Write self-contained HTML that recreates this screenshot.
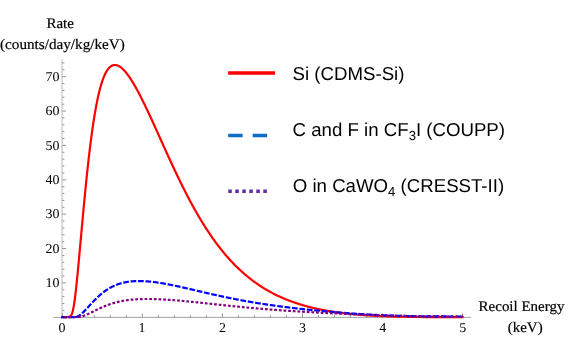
<!DOCTYPE html>
<html><head><meta charset="utf-8">
<style>
html,body{margin:0;padding:0;background:#fff;}
body{width:568px;height:352px;overflow:hidden;}
svg{display:block;will-change:transform;text-rendering:geometricPrecision;}
.ser{font-family:"Liberation Serif",serif;font-size:14.6px;fill:#000;stroke:#000;stroke-width:0.2px}
.tk{font-family:"Liberation Serif",serif;font-size:13.5px;fill:#000}
.san{font-family:"Liberation Sans",sans-serif;font-size:18.65px;fill:#000}
</style></head><body>
<svg width="568" height="352" viewBox="0 0 568 352">
<rect width="568" height="352" fill="#fff"/>
<g fill="none">
<line x1="53.4" y1="317.4" x2="471" y2="317.4" stroke="#8a8a8a" stroke-width="0.8"/>
<line x1="62.05" y1="59.5" x2="62.05" y2="317.25" stroke="#c4c4c4" stroke-width="1.2"/>
<g stroke="#666666" stroke-width="0.7">
<line x1="62.30" y1="317.25" x2="62.30" y2="313.55"/>
<line x1="78.31" y1="317.25" x2="78.31" y2="315.15"/>
<line x1="94.32" y1="317.25" x2="94.32" y2="315.15"/>
<line x1="110.32" y1="317.25" x2="110.32" y2="315.15"/>
<line x1="126.33" y1="317.25" x2="126.33" y2="315.15"/>
<line x1="142.34" y1="317.25" x2="142.34" y2="313.55"/>
<line x1="158.35" y1="317.25" x2="158.35" y2="315.15"/>
<line x1="174.36" y1="317.25" x2="174.36" y2="315.15"/>
<line x1="190.36" y1="317.25" x2="190.36" y2="315.15"/>
<line x1="206.37" y1="317.25" x2="206.37" y2="315.15"/>
<line x1="222.38" y1="317.25" x2="222.38" y2="313.55"/>
<line x1="238.39" y1="317.25" x2="238.39" y2="315.15"/>
<line x1="254.40" y1="317.25" x2="254.40" y2="315.15"/>
<line x1="270.40" y1="317.25" x2="270.40" y2="315.15"/>
<line x1="286.41" y1="317.25" x2="286.41" y2="315.15"/>
<line x1="302.42" y1="317.25" x2="302.42" y2="313.55"/>
<line x1="318.43" y1="317.25" x2="318.43" y2="315.15"/>
<line x1="334.44" y1="317.25" x2="334.44" y2="315.15"/>
<line x1="350.44" y1="317.25" x2="350.44" y2="315.15"/>
<line x1="366.45" y1="317.25" x2="366.45" y2="315.15"/>
<line x1="382.46" y1="317.25" x2="382.46" y2="313.55"/>
<line x1="398.47" y1="317.25" x2="398.47" y2="315.15"/>
<line x1="414.48" y1="317.25" x2="414.48" y2="315.15"/>
<line x1="430.48" y1="317.25" x2="430.48" y2="315.15"/>
<line x1="446.49" y1="317.25" x2="446.49" y2="315.15"/>
<line x1="462.50" y1="317.25" x2="462.50" y2="313.55"/>
<line x1="62.3" y1="317.29" x2="66.0" y2="317.29"/>
<line x1="62.3" y1="310.41" x2="64.39999999999999" y2="310.41"/>
<line x1="62.3" y1="303.54" x2="64.39999999999999" y2="303.54"/>
<line x1="62.3" y1="296.66" x2="64.39999999999999" y2="296.66"/>
<line x1="62.3" y1="289.79" x2="64.39999999999999" y2="289.79"/>
<line x1="62.3" y1="282.91" x2="66.0" y2="282.91"/>
<line x1="62.3" y1="276.04" x2="64.39999999999999" y2="276.04"/>
<line x1="62.3" y1="269.16" x2="64.39999999999999" y2="269.16"/>
<line x1="62.3" y1="262.29" x2="64.39999999999999" y2="262.29"/>
<line x1="62.3" y1="255.41" x2="64.39999999999999" y2="255.41"/>
<line x1="62.3" y1="248.54" x2="66.0" y2="248.54"/>
<line x1="62.3" y1="241.66" x2="64.39999999999999" y2="241.66"/>
<line x1="62.3" y1="234.79" x2="64.39999999999999" y2="234.79"/>
<line x1="62.3" y1="227.91" x2="64.39999999999999" y2="227.91"/>
<line x1="62.3" y1="221.04" x2="64.39999999999999" y2="221.04"/>
<line x1="62.3" y1="214.16" x2="66.0" y2="214.16"/>
<line x1="62.3" y1="207.29" x2="64.39999999999999" y2="207.29"/>
<line x1="62.3" y1="200.41" x2="64.39999999999999" y2="200.41"/>
<line x1="62.3" y1="193.54" x2="64.39999999999999" y2="193.54"/>
<line x1="62.3" y1="186.66" x2="64.39999999999999" y2="186.66"/>
<line x1="62.3" y1="179.79" x2="66.0" y2="179.79"/>
<line x1="62.3" y1="172.91" x2="64.39999999999999" y2="172.91"/>
<line x1="62.3" y1="166.04" x2="64.39999999999999" y2="166.04"/>
<line x1="62.3" y1="159.16" x2="64.39999999999999" y2="159.16"/>
<line x1="62.3" y1="152.29" x2="64.39999999999999" y2="152.29"/>
<line x1="62.3" y1="145.41" x2="66.0" y2="145.41"/>
<line x1="62.3" y1="138.53" x2="64.39999999999999" y2="138.53"/>
<line x1="62.3" y1="131.66" x2="64.39999999999999" y2="131.66"/>
<line x1="62.3" y1="124.78" x2="64.39999999999999" y2="124.78"/>
<line x1="62.3" y1="117.91" x2="64.39999999999999" y2="117.91"/>
<line x1="62.3" y1="111.03" x2="66.0" y2="111.03"/>
<line x1="62.3" y1="104.16" x2="64.39999999999999" y2="104.16"/>
<line x1="62.3" y1="97.28" x2="64.39999999999999" y2="97.28"/>
<line x1="62.3" y1="90.41" x2="64.39999999999999" y2="90.41"/>
<line x1="62.3" y1="83.53" x2="64.39999999999999" y2="83.53"/>
<line x1="62.3" y1="76.66" x2="66.0" y2="76.66"/>
<line x1="62.3" y1="69.78" x2="64.39999999999999" y2="69.78"/>
<line x1="62.3" y1="62.91" x2="64.39999999999999" y2="62.91"/>
</g>
</g>
<g class="tk">
<text transform="translate(62.00,332.00) scale(1.035,1)" text-anchor="middle">0</text>
<text transform="translate(142.04,332.00) scale(1.035,1)" text-anchor="middle">1</text>
<text transform="translate(222.38,332.00) scale(1.035,1)" text-anchor="middle">2</text>
<text transform="translate(302.42,332.00) scale(1.035,1)" text-anchor="middle">3</text>
<text transform="translate(382.66,332.00) scale(1.035,1)" text-anchor="middle">4</text>
<text transform="translate(462.80,332.00) scale(1.035,1)" text-anchor="middle">5</text>
<text transform="translate(59.55,287.21) scale(1.035,1)" text-anchor="end">10</text>
<text transform="translate(59.55,252.84) scale(1.035,1)" text-anchor="end">20</text>
<text transform="translate(59.55,218.46) scale(1.035,1)" text-anchor="end">30</text>
<text transform="translate(59.55,184.09) scale(1.035,1)" text-anchor="end">40</text>
<text transform="translate(59.55,149.71) scale(1.035,1)" text-anchor="end">50</text>
<text transform="translate(59.55,115.33) scale(1.035,1)" text-anchor="end">60</text>
<text transform="translate(59.55,80.96) scale(1.035,1)" text-anchor="end">70</text>
</g>
<g class="ser">
<text transform="translate(60.20,28.00) scale(1.026,1)" text-anchor="middle">Rate</text>
<text transform="translate(62.40,49.30) scale(1.04,1)" text-anchor="middle">(counts/day/kg/keV)</text>
<text transform="translate(521.50,310.90) scale(1.026,1)" text-anchor="middle">Recoil Energy</text>
<text transform="translate(525.20,332.30) scale(1.026,1)" text-anchor="middle">(keV)</text>
</g>
<g fill="none" stroke-linejoin="round" stroke-linecap="butt">
<path d="M61.10,317.10 L62.30,317.10 L62.42,317.10 L62.54,317.10 L62.66,317.10 L62.78,317.10 L62.90,317.10 L63.02,317.10 L63.14,317.10 L63.26,317.10 L63.38,317.10 L63.50,317.10 L63.62,317.10 L63.74,317.10 L63.86,317.10 L63.99,317.10 L64.11,317.10 L64.23,317.10 L64.35,317.10 L64.47,317.10 L64.59,317.10 L64.71,317.10 L64.83,317.10 L64.95,317.10 L65.07,317.09 L65.19,317.09 L65.31,317.09 L65.43,317.09 L65.55,317.09 L65.67,317.09 L65.79,317.09 L65.91,317.09 L66.03,317.09 L66.15,317.08 L66.27,317.08 L66.39,317.08 L66.51,317.08 L66.63,317.07 L66.75,317.07 L66.87,317.07 L66.99,317.06 L67.11,317.06 L67.23,317.05 L67.36,317.05 L67.48,317.04 L67.60,317.03 L67.72,317.02 L67.84,317.01 L67.96,317.00 L68.08,316.99 L68.20,316.98 L68.32,316.96 L68.44,316.95 L68.56,316.93 L68.68,316.91 L68.80,316.88 L68.92,316.86 L69.04,316.83 L69.16,316.79 L69.28,316.75 L69.40,316.71 L69.52,316.67 L69.64,316.61 L69.76,316.56 L69.88,316.49 L70.00,316.42 L70.12,316.34 L70.24,316.26 L70.36,316.16 L70.48,316.06 L70.60,315.94 L70.73,315.81 L70.85,315.67 L70.97,315.52 L71.09,315.35 L71.21,315.17 L71.33,314.97 L71.45,314.75 L71.57,314.51 L71.69,314.26 L71.81,313.99 L71.93,313.69 L72.05,313.37 L72.17,313.03 L72.29,312.67 L72.41,312.28 L72.53,311.87 L72.65,311.43 L72.77,310.97 L72.89,310.48 L73.01,309.96 L73.13,309.42 L73.25,308.85 L73.37,308.25 L73.49,307.63 L73.61,306.98 L73.73,306.30 L73.85,305.60 L73.98,304.87 L74.10,304.11 L74.22,303.33 L74.34,302.52 L74.46,301.69 L74.58,300.84 L74.70,299.97 L74.82,299.07 L74.94,298.15 L75.06,297.21 L75.18,296.25 L75.30,295.26 L75.42,294.26 L75.54,293.25 L75.66,292.21 L75.78,291.16 L75.90,290.09 L76.02,289.00 L76.14,287.90 L76.26,286.79 L76.38,285.66 L76.50,284.52 L76.62,283.37 L76.74,282.20 L76.86,281.03 L76.98,279.84 L77.10,278.64 L77.22,277.44 L77.35,276.22 L77.47,274.99 L77.59,273.76 L77.71,272.52 L77.83,271.27 L77.95,270.01 L78.07,268.75 L78.19,267.48 L78.31,266.20 L78.43,264.92 L78.55,263.64 L78.67,262.35 L78.79,261.05 L78.91,259.75 L79.03,258.45 L79.15,257.14 L79.27,255.83 L79.39,254.52 L79.51,253.20 L79.63,251.88 L79.75,250.56 L79.87,249.24 L79.99,247.92 L80.11,246.59 L80.23,245.26 L80.35,243.94 L80.47,242.61 L80.59,241.28 L80.72,239.95 L80.84,238.62 L80.96,237.29 L81.08,235.97 L81.20,234.64 L81.32,233.31 L81.44,231.98 L81.56,230.66 L81.68,229.34 L81.80,228.01 L81.92,226.69 L82.04,225.37 L82.16,224.06 L82.28,222.74 L82.40,221.43 L82.52,220.12 L82.64,218.81 L82.76,217.50 L82.88,216.20 L83.00,214.90 L83.12,213.61 L83.24,212.31 L83.36,211.02 L83.48,209.74 L83.60,208.45 L83.72,207.17 L83.84,205.90 L83.96,204.63 L84.09,203.36 L84.21,202.09 L84.33,200.84 L84.45,199.58 L84.57,198.33 L84.69,197.08 L84.81,195.84 L84.93,194.60 L85.05,193.37 L85.17,192.15 L85.29,190.92 L85.41,189.71 L85.53,188.49 L85.65,187.29 L85.77,186.08 L85.89,184.89 L86.01,183.70 L86.13,182.51 L86.25,181.33 L86.37,180.15 L86.49,178.99 L86.61,177.82 L86.73,176.66 L86.85,175.51 L86.97,174.37 L87.09,173.23 L87.21,172.09 L87.34,170.96 L87.46,169.84 L87.58,168.73 L87.70,167.62 L87.82,166.51 L87.94,165.42 L88.06,164.32 L88.18,163.24 L88.30,162.16 L88.42,161.09 L88.54,160.02 L88.66,158.96 L88.78,157.91 L88.90,156.86 L89.02,155.82 L89.14,154.79 L89.26,153.77 L89.38,152.75 L89.50,151.73 L89.62,150.72 L89.74,149.72 L89.86,148.73 L89.98,147.74 L90.10,146.76 L90.22,145.79 L90.34,144.83 L90.46,143.87 L90.58,142.91 L90.71,141.97 L90.83,141.03 L90.95,140.09 L91.07,139.17 L91.19,138.25 L91.31,137.34 L91.43,136.43 L91.55,135.53 L91.67,134.64 L91.79,133.76 L91.91,132.88 L92.03,132.01 L92.15,131.14 L92.27,130.28 L92.39,129.43 L92.51,128.59 L92.63,127.75 L92.75,126.92 L92.87,126.10 L92.99,125.28 L93.11,124.47 L93.23,123.67 L93.35,122.87 L93.47,122.08 L93.59,121.30 L93.71,120.52 L93.83,119.75 L93.95,118.99 L94.08,118.23 L94.20,117.48 L94.32,116.74 L94.44,116.00 L94.56,115.27 L94.68,114.55 L94.80,113.83 L94.92,113.12 L95.04,112.42 L95.16,111.72 L95.28,111.03 L95.40,110.34 L95.52,109.66 L95.64,108.99 L95.76,108.33 L95.88,107.67 L96.00,107.02 L96.12,106.37 L96.24,105.73 L96.36,105.10 L96.48,104.47 L96.60,103.85 L96.72,103.24 L96.84,102.63 L96.96,102.02 L97.08,101.43 L97.20,100.84 L97.33,100.25 L97.45,99.68 L97.57,99.11 L97.69,98.54 L97.81,97.98 L97.93,97.43 L98.05,96.88 L98.17,96.34 L98.29,95.80 L98.41,95.27 L98.53,94.75 L98.65,94.23 L98.77,93.71 L98.89,93.21 L99.01,92.71 L99.13,92.21 L99.25,91.72 L99.37,91.23 L99.49,90.76 L99.61,90.28 L99.73,89.81 L99.85,89.35 L99.97,88.90 L100.09,88.44 L100.21,88.00 L100.33,87.56 L100.45,87.12 L100.57,86.69 L100.70,86.27 L100.82,85.85 L100.94,85.43 L101.06,85.02 L101.18,84.62 L101.30,84.22 L101.42,83.83 L101.54,83.44 L101.66,83.06 L101.78,82.68 L101.90,82.30 L102.02,81.93 L102.14,81.57 L102.26,81.21 L102.38,80.86 L102.50,80.51 L102.62,80.16 L102.74,79.82 L102.86,79.49 L102.98,79.16 L103.10,78.83 L103.22,78.51 L103.34,78.20 L103.46,77.88 L103.58,77.58 L103.70,77.27 L103.82,76.98 L103.94,76.68 L104.07,76.39 L104.19,76.11 L104.31,75.83 L104.43,75.55 L104.55,75.28 L104.67,75.01 L104.79,74.75 L104.91,74.49 L105.03,74.23 L105.15,73.98 L105.27,73.74 L105.39,73.49 L105.51,73.25 L105.63,73.02 L105.75,72.79 L105.87,72.56 L105.99,72.34 L106.11,72.12 L106.23,71.90 L106.35,71.69 L106.47,71.49 L106.59,71.28 L106.71,71.08 L106.83,70.89 L106.95,70.70 L107.07,70.51 L107.19,70.32 L107.31,70.14 L107.44,69.96 L107.56,69.79 L107.68,69.62 L107.80,69.45 L107.92,69.29 L108.04,69.13 L108.16,68.97 L108.28,68.82 L108.40,68.67 L108.52,68.52 L108.64,68.38 L108.76,68.24 L108.88,68.10 L109.00,67.97 L109.12,67.84 L109.24,67.71 L109.36,67.59 L109.48,67.47 L109.60,67.35 L109.72,67.24 L109.84,67.13 L109.96,67.02 L110.08,66.92 L110.20,66.81 L110.32,66.72 L110.83,66.33 L111.33,66.00 L111.84,65.72 L112.34,65.49 L112.84,65.30 L113.35,65.16 L113.85,65.06 L114.35,65.00 L114.86,64.98 L115.36,65.00 L115.87,65.05 L116.37,65.15 L116.87,65.27 L117.38,65.44 L117.88,65.63 L118.39,65.86 L118.89,66.12 L119.39,66.41 L119.90,66.72 L120.40,67.07 L120.90,67.44 L121.41,67.84 L121.91,68.27 L122.42,68.71 L122.92,69.19 L123.42,69.68 L123.93,70.20 L124.43,70.74 L124.94,71.30 L125.44,71.89 L125.94,72.49 L126.45,73.11 L126.95,73.75 L127.45,74.41 L127.96,75.08 L128.46,75.78 L128.97,76.49 L129.47,77.21 L129.97,77.95 L130.48,78.71 L130.98,79.48 L131.48,80.27 L131.99,81.07 L132.49,81.88 L133.00,82.70 L133.50,83.54 L134.00,84.39 L134.51,85.26 L135.01,86.13 L135.52,87.02 L136.02,87.91 L136.52,88.82 L137.03,89.74 L137.53,90.66 L138.03,91.60 L138.54,92.55 L139.04,93.50 L139.55,94.47 L140.05,95.44 L140.55,96.42 L141.06,97.41 L141.56,98.40 L142.07,99.40 L142.57,100.41 L143.07,101.43 L143.58,102.45 L144.08,103.48 L144.58,104.52 L145.09,105.56 L145.59,106.61 L146.10,107.66 L146.60,108.72 L147.10,109.78 L147.61,110.84 L148.11,111.92 L148.61,112.99 L149.12,114.07 L149.62,115.15 L150.13,116.24 L150.63,117.33 L151.13,118.42 L151.64,119.52 L152.14,120.62 L152.65,121.72 L153.15,122.83 L153.65,123.93 L154.16,125.04 L154.66,126.15 L155.16,127.26 L155.67,128.38 L156.17,129.49 L156.68,130.61 L157.18,131.73 L157.68,132.85 L158.19,133.96 L158.69,135.08 L159.20,136.20 L159.70,137.32 L160.20,138.44 L160.71,139.56 L161.21,140.68 L161.71,141.80 L162.22,142.92 L162.72,144.04 L163.23,145.16 L163.73,146.28 L164.23,147.39 L164.74,148.51 L165.24,149.62 L165.75,150.74 L166.25,151.85 L166.75,152.96 L167.26,154.06 L167.76,155.17 L168.26,156.27 L168.77,157.38 L169.27,158.48 L169.78,159.57 L170.28,160.67 L170.78,161.76 L171.29,162.85 L171.79,163.94 L172.29,165.03 L172.80,166.11 L173.30,167.19 L173.81,168.26 L174.31,169.34 L174.81,170.41 L175.32,171.47 L175.82,172.54 L176.33,173.60 L176.83,174.65 L177.33,175.71 L177.84,176.76 L178.34,177.80 L178.84,178.84 L179.35,179.88 L179.85,180.92 L180.36,181.95 L180.86,182.97 L181.36,184.00 L181.87,185.01 L182.37,186.03 L182.88,187.04 L183.38,188.04 L183.88,189.04 L184.39,190.04 L184.89,191.03 L185.39,192.02 L185.90,193.01 L186.40,193.99 L186.91,194.96 L187.41,195.93 L187.91,196.90 L188.42,197.86 L188.92,198.81 L189.43,199.76 L189.93,200.71 L190.43,201.65 L190.94,202.59 L191.44,203.52 L191.94,204.45 L192.45,205.37 L192.95,206.29 L193.46,207.20 L193.96,208.11 L194.46,209.01 L194.97,209.90 L195.47,210.80 L195.97,211.68 L196.48,212.57 L196.98,213.44 L197.49,214.32 L197.99,215.18 L198.49,216.04 L199.00,216.90 L199.50,217.75 L200.01,218.60 L200.51,219.44 L201.01,220.28 L201.52,221.11 L202.02,221.93 L202.52,222.75 L203.03,223.57 L203.53,224.38 L204.04,225.18 L204.54,225.98 L205.04,226.78 L205.55,227.57 L206.05,228.35 L206.56,229.13 L207.06,229.91 L207.56,230.68 L208.07,231.44 L208.57,232.20 L209.07,232.95 L209.58,233.70 L210.08,234.44 L210.59,235.18 L211.09,235.91 L211.59,236.64 L212.10,237.37 L212.60,238.08 L213.10,238.80 L213.61,239.50 L214.11,240.21 L214.62,240.91 L215.12,241.60 L215.62,242.29 L216.13,242.97 L216.63,243.65 L217.14,244.32 L217.64,244.99 L218.14,245.65 L218.65,246.31 L219.15,246.96 L219.65,247.61 L220.16,248.26 L220.66,248.90 L221.17,249.53 L221.67,250.16 L222.17,250.78 L222.68,251.40 L223.18,252.02 L223.69,252.63 L224.19,253.24 L224.69,253.84 L225.20,254.43 L225.70,255.02 L226.20,255.61 L226.71,256.19 L227.21,256.77 L227.72,257.35 L228.22,257.92 L228.72,258.48 L229.23,259.04 L229.73,259.60 L230.24,260.15 L230.74,260.69 L231.24,261.24 L231.75,261.78 L232.25,262.31 L232.75,262.84 L233.26,263.36 L233.76,263.89 L234.27,264.40 L234.77,264.91 L235.27,265.42 L235.78,265.93 L236.28,266.43 L236.78,266.92 L237.29,267.42 L237.79,267.90 L238.30,268.39 L238.80,268.87 L239.30,269.34 L239.81,269.81 L240.31,270.28 L240.82,270.75 L241.32,271.21 L241.82,271.66 L242.33,272.12 L242.83,272.56 L243.33,273.01 L243.84,273.45 L244.34,273.89 L244.85,274.32 L245.35,274.75 L245.85,275.18 L246.36,275.60 L246.86,276.02 L247.37,276.43 L247.87,276.84 L248.37,277.25 L248.88,277.66 L249.38,278.06 L249.88,278.46 L250.39,278.85 L250.89,279.24 L251.40,279.63 L251.90,280.01 L252.40,280.39 L252.91,280.77 L253.41,281.15 L253.92,281.52 L254.42,281.88 L254.92,282.25 L255.43,282.61 L255.93,282.97 L256.43,283.32 L256.94,283.67 L257.44,284.02 L257.95,284.37 L258.45,284.71 L258.95,285.05 L259.46,285.38 L259.96,285.72 L260.46,286.05 L260.97,286.37 L261.47,286.70 L261.98,287.02 L262.48,287.34 L262.98,287.65 L263.49,287.97 L263.99,288.28 L264.50,288.58 L265.00,288.89 L265.50,289.19 L266.01,289.49 L266.51,289.78 L267.01,290.08 L267.52,290.37 L268.02,290.66 L268.53,290.94 L269.03,291.22 L269.53,291.50 L270.04,291.78 L270.54,292.06 L271.05,292.33 L271.55,292.60 L272.05,292.87 L272.56,293.13 L273.06,293.39 L273.56,293.65 L274.07,293.91 L274.57,294.17 L275.08,294.42 L275.58,294.67 L276.08,294.92 L276.59,295.17 L277.09,295.41 L277.60,295.65 L278.10,295.89 L278.60,296.13 L279.11,296.36 L279.61,296.59 L280.11,296.82 L280.62,297.05 L281.12,297.28 L281.63,297.50 L282.13,297.72 L282.63,297.94 L283.14,298.16 L283.64,298.37 L284.14,298.59 L284.65,298.80 L285.15,299.01 L285.66,299.21 L286.16,299.42 L286.66,299.62 L287.17,299.82 L287.67,300.02 L288.18,300.22 L288.68,300.42 L289.18,300.61 L289.69,300.80 L290.19,300.99 L290.69,301.18 L291.20,301.37 L291.70,301.55 L292.21,301.73 L292.71,301.91 L293.21,302.09 L293.72,302.27 L294.22,302.45 L294.73,302.62 L295.23,302.79 L295.73,302.96 L296.24,303.13 L296.74,303.30 L297.24,303.46 L297.75,303.63 L298.25,303.79 L298.76,303.95 L299.26,304.11 L299.76,304.26 L300.27,304.42 L300.77,304.57 L301.27,304.73 L301.78,304.88 L302.28,305.03 L302.79,305.18 L303.29,305.32 L303.79,305.47 L304.30,305.61 L304.80,305.75 L305.31,305.89 L305.81,306.03 L306.31,306.17 L306.82,306.31 L307.32,306.44 L307.82,306.58 L308.33,306.71 L308.83,306.84 L309.34,306.97 L309.84,307.10 L310.34,307.22 L310.85,307.35 L311.35,307.47 L311.86,307.60 L312.36,307.72 L312.86,307.84 L313.37,307.96 L313.87,308.08 L314.37,308.19 L314.88,308.31 L315.38,308.42 L315.89,308.54 L316.39,308.65 L316.89,308.76 L317.40,308.87 L317.90,308.98 L318.41,309.08 L318.91,309.19 L319.41,309.30 L319.92,309.40 L320.42,309.50 L320.92,309.60 L321.43,309.70 L321.93,309.80 L322.44,309.90 L322.94,310.00 L323.44,310.10 L323.95,310.19 L324.45,310.29 L324.95,310.38 L325.46,310.47 L325.96,310.56 L326.47,310.65 L326.97,310.74 L327.47,310.83 L327.98,310.92 L328.48,311.00 L328.99,311.09 L329.49,311.17 L329.99,311.25 L330.50,311.34 L331.00,311.42 L331.50,311.50 L332.01,311.58 L332.51,311.66 L333.02,311.73 L333.52,311.81 L334.02,311.89 L334.53,311.96 L335.03,312.04 L335.54,312.11 L336.04,312.18 L336.54,312.26 L337.05,312.33 L337.55,312.40 L338.05,312.47 L338.56,312.53 L339.06,312.60 L339.57,312.67 L340.07,312.73 L340.57,312.80 L341.08,312.86 L341.58,312.93 L342.09,312.99 L342.59,313.05 L343.09,313.12 L343.60,313.18 L344.10,313.24 L344.60,313.30 L345.11,313.35 L345.61,313.41 L346.12,313.47 L346.62,313.53 L347.12,313.58 L347.63,313.64 L348.13,313.69 L348.63,313.74 L349.14,313.80 L349.64,313.85 L350.15,313.90 L350.65,313.95 L351.15,314.00 L351.66,314.05 L352.16,314.10 L352.67,314.15 L353.17,314.20 L353.67,314.25 L354.18,314.29 L354.68,314.34 L355.18,314.38 L355.69,314.43 L356.19,314.47 L356.70,314.52 L357.20,314.56 L357.70,314.60 L358.21,314.65 L358.71,314.69 L359.22,314.73 L359.72,314.77 L360.22,314.81 L360.73,314.85 L361.23,314.89 L361.73,314.93 L362.24,314.96 L362.74,315.00 L363.25,315.04 L363.75,315.07 L364.25,315.11 L364.76,315.15 L365.26,315.18 L365.76,315.21 L366.27,315.25 L366.77,315.28 L367.28,315.32 L367.78,315.35 L368.28,315.38 L368.79,315.41 L369.29,315.44 L369.80,315.47 L370.30,315.50 L370.80,315.53 L371.31,315.56 L371.81,315.59 L372.31,315.62 L372.82,315.65 L373.32,315.68 L373.83,315.70 L374.33,315.73 L374.83,315.76 L375.34,315.78 L375.84,315.81 L376.35,315.83 L376.85,315.86 L377.35,315.88 L377.86,315.91 L378.36,315.93 L378.86,315.96 L379.37,315.98 L379.87,316.00 L380.38,316.02 L380.88,316.05 L381.38,316.07 L381.89,316.09 L382.39,316.11 L382.90,316.13 L383.40,316.15 L383.90,316.17 L384.41,316.19 L384.91,316.21 L385.41,316.23 L385.92,316.25 L386.42,316.27 L386.93,316.29 L387.43,316.31 L387.93,316.32 L388.44,316.34 L388.94,316.36 L389.44,316.37 L389.95,316.39 L390.45,316.41 L390.96,316.42 L391.46,316.44 L391.96,316.45 L392.47,316.47 L392.97,316.49 L393.48,316.50 L393.98,316.51 L394.48,316.53 L394.99,316.54 L395.49,316.56 L395.99,316.57 L396.50,316.58 L397.00,316.60 L397.51,316.61 L398.01,316.62 L398.51,316.63 L399.02,316.65 L399.52,316.66 L400.03,316.67 L400.53,316.68 L401.03,316.69 L401.54,316.70 L402.04,316.72 L402.54,316.73 L403.05,316.74 L403.55,316.75 L404.06,316.76 L404.56,316.77 L405.06,316.78 L405.57,316.79 L406.07,316.80 L406.58,316.80 L407.08,316.81 L407.58,316.82 L408.09,316.83 L408.59,316.84 L409.09,316.85 L409.60,316.86 L410.10,316.87 L410.61,316.87 L411.11,316.88 L411.61,316.89 L412.12,316.90 L412.62,316.90 L413.12,316.91 L413.63,316.92 L414.13,316.92 L414.64,316.93 L415.14,316.94 L415.64,316.94 L416.15,316.95 L416.65,316.96 L417.16,316.96 L417.66,316.97 L418.16,316.97 L418.67,316.98 L419.17,316.99 L419.67,316.99 L420.18,317.00 L420.68,317.00 L421.19,317.01 L421.69,317.01 L422.19,317.02 L422.70,317.02 L423.20,317.03 L423.71,317.03 L424.21,317.04 L424.71,317.04 L425.22,317.05 L425.72,317.05 L426.22,317.05 L426.73,317.06 L427.23,317.06 L427.74,317.07 L428.24,317.07 L428.74,317.07 L429.25,317.08 L429.75,317.08 L430.25,317.08 L430.76,317.09 L431.26,317.09 L431.77,317.09 L432.27,317.10 L432.77,317.10 L433.28,317.10 L433.78,317.11 L434.29,317.11 L434.79,317.11 L435.29,317.11 L435.80,317.12 L436.30,317.12 L436.80,317.12 L437.31,317.12 L437.81,317.13 L438.32,317.13 L438.82,317.13 L439.32,317.13 L439.83,317.14 L440.33,317.14 L440.84,317.14 L441.34,317.14 L441.84,317.14 L442.35,317.15 L442.85,317.15 L443.35,317.15 L443.86,317.15 L444.36,317.15 L444.87,317.16 L445.37,317.16 L445.87,317.16 L446.38,317.16 L446.88,317.16 L447.39,317.16 L447.89,317.16 L448.39,317.17 L448.90,317.17 L449.40,317.17 L449.90,317.17 L450.41,317.17 L450.91,317.17 L451.42,317.17 L451.92,317.18 L452.42,317.18 L452.93,317.18 L453.43,317.18 L453.93,317.18 L454.44,317.18 L454.94,317.18 L455.45,317.18 L455.95,317.18 L456.45,317.18 L456.96,317.19 L457.46,317.19 L457.97,317.19 L458.47,317.19 L458.97,317.19 L459.48,317.19 L459.98,317.19 L460.48,317.19 L460.99,317.19 L461.49,317.19 L462.00,317.19 L462.50,317.19 L463.40,317.19" stroke="#ff0000" stroke-width="2.2"/>
<path d="M61.10,317.10 L62.30,317.10 L62.42,317.10 L62.54,317.10 L62.66,317.10 L62.78,317.10 L62.90,317.10 L63.02,317.10 L63.14,317.10 L63.26,317.10 L63.38,317.10 L63.50,317.10 L63.62,317.10 L63.74,317.10 L63.86,317.10 L63.99,317.10 L64.11,317.10 L64.23,317.10 L64.35,317.10 L64.47,317.10 L64.59,317.10 L64.71,317.10 L64.83,317.10 L64.95,317.10 L65.07,317.10 L65.19,317.10 L65.31,317.10 L65.43,317.10 L65.55,317.10 L65.67,317.10 L65.79,317.10 L65.91,317.10 L66.03,317.10 L66.15,317.10 L66.27,317.10 L66.39,317.10 L66.51,317.10 L66.63,317.10 L66.75,317.10 L66.87,317.10 L66.99,317.10 L67.11,317.10 L67.23,317.10 L67.36,317.10 L67.48,317.10 L67.60,317.10 L67.72,317.10 L67.84,317.10 L67.96,317.10 L68.08,317.10 L68.20,317.10 L68.32,317.10 L68.44,317.10 L68.56,317.10 L68.68,317.10 L68.80,317.10 L68.92,317.10 L69.04,317.10 L69.16,317.10 L69.28,317.10 L69.40,317.10 L69.52,317.10 L69.64,317.10 L69.76,317.10 L69.88,317.10 L70.00,317.10 L70.12,317.10 L70.24,317.10 L70.36,317.10 L70.48,317.10 L70.60,317.10 L70.73,317.10 L70.85,317.10 L70.97,317.10 L71.09,317.10 L71.21,317.10 L71.33,317.10 L71.45,317.10 L71.57,317.10 L71.69,317.10 L71.81,317.10 L71.93,317.10 L72.05,317.10 L72.17,317.10 L72.29,317.10 L72.41,317.10 L72.53,317.10 L72.65,317.10 L72.77,317.10 L72.89,317.10 L73.01,317.09 L73.13,317.09 L73.25,317.09 L73.37,317.09 L73.49,317.09 L73.61,317.09 L73.73,317.09 L73.85,317.08 L73.98,317.08 L74.10,317.08 L74.22,317.08 L74.34,317.07 L74.46,317.07 L74.58,317.07 L74.70,317.06 L74.82,317.06 L74.94,317.05 L75.06,317.04 L75.18,317.04 L75.30,317.03 L75.42,317.02 L75.54,317.01 L75.66,316.99 L75.78,316.98 L75.90,316.97 L76.02,316.95 L76.14,316.93 L76.26,316.91 L76.38,316.89 L76.50,316.87 L76.62,316.84 L76.74,316.81 L76.86,316.78 L76.98,316.75 L77.10,316.71 L77.22,316.67 L77.35,316.63 L77.47,316.59 L77.59,316.55 L77.71,316.50 L77.83,316.45 L77.95,316.39 L78.07,316.34 L78.19,316.28 L78.31,316.22 L78.43,316.15 L78.55,316.09 L78.67,316.02 L78.79,315.95 L78.91,315.88 L79.03,315.80 L79.15,315.72 L79.27,315.65 L79.39,315.56 L79.51,315.48 L79.63,315.40 L79.75,315.31 L79.87,315.22 L79.99,315.13 L80.11,315.04 L80.23,314.94 L80.35,314.85 L80.47,314.75 L80.59,314.65 L80.72,314.56 L80.84,314.45 L80.96,314.35 L81.08,314.25 L81.20,314.15 L81.32,314.04 L81.44,313.93 L81.56,313.83 L81.68,313.72 L81.80,313.61 L81.92,313.50 L82.04,313.39 L82.16,313.27 L82.28,313.16 L82.40,313.05 L82.52,312.93 L82.64,312.82 L82.76,312.70 L82.88,312.58 L83.00,312.47 L83.12,312.35 L83.24,312.23 L83.36,312.11 L83.48,311.99 L83.60,311.87 L83.72,311.75 L83.84,311.63 L83.96,311.51 L84.09,311.38 L84.21,311.26 L84.33,311.14 L84.45,311.01 L84.57,310.89 L84.69,310.76 L84.81,310.64 L84.93,310.51 L85.05,310.38 L85.17,310.26 L85.29,310.13 L85.41,310.00 L85.53,309.88 L85.65,309.75 L85.77,309.62 L85.89,309.49 L86.01,309.36 L86.13,309.23 L86.25,309.11 L86.37,308.98 L86.49,308.85 L86.61,308.72 L86.73,308.59 L86.85,308.46 L86.97,308.33 L87.09,308.20 L87.21,308.07 L87.34,307.94 L87.46,307.81 L87.58,307.67 L87.70,307.54 L87.82,307.41 L87.94,307.28 L88.06,307.15 L88.18,307.02 L88.30,306.89 L88.42,306.76 L88.54,306.63 L88.66,306.49 L88.78,306.36 L88.90,306.23 L89.02,306.10 L89.14,305.97 L89.26,305.84 L89.38,305.71 L89.50,305.58 L89.62,305.44 L89.74,305.31 L89.86,305.18 L89.98,305.05 L90.10,304.92 L90.22,304.79 L90.34,304.66 L90.46,304.53 L90.58,304.40 L90.71,304.27 L90.83,304.14 L90.95,304.01 L91.07,303.88 L91.19,303.75 L91.31,303.62 L91.43,303.49 L91.55,303.36 L91.67,303.23 L91.79,303.11 L91.91,302.98 L92.03,302.85 L92.15,302.72 L92.27,302.59 L92.39,302.46 L92.51,302.34 L92.63,302.21 L92.75,302.08 L92.87,301.96 L92.99,301.83 L93.11,301.70 L93.23,301.58 L93.35,301.45 L93.47,301.33 L93.59,301.20 L93.71,301.08 L93.83,300.95 L93.95,300.83 L94.08,300.70 L94.20,300.58 L94.32,300.46 L94.44,300.33 L94.56,300.21 L94.68,300.09 L94.80,299.97 L94.92,299.84 L95.04,299.72 L95.16,299.60 L95.28,299.48 L95.40,299.36 L95.52,299.24 L95.64,299.12 L95.76,299.00 L95.88,298.88 L96.00,298.76 L96.12,298.65 L96.24,298.53 L96.36,298.41 L96.48,298.29 L96.60,298.18 L96.72,298.06 L96.84,297.94 L96.96,297.83 L97.08,297.71 L97.20,297.60 L97.33,297.48 L97.45,297.37 L97.57,297.25 L97.69,297.14 L97.81,297.03 L97.93,296.92 L98.05,296.80 L98.17,296.69 L98.29,296.58 L98.41,296.47 L98.53,296.36 L98.65,296.25 L98.77,296.14 L98.89,296.03 L99.01,295.92 L99.13,295.81 L99.25,295.70 L99.37,295.60 L99.49,295.49 L99.61,295.38 L99.73,295.28 L99.85,295.17 L99.97,295.07 L100.09,294.96 L100.21,294.86 L100.33,294.75 L100.45,294.65 L100.57,294.55 L100.70,294.44 L100.82,294.34 L100.94,294.24 L101.06,294.14 L101.18,294.04 L101.30,293.94 L101.42,293.84 L101.54,293.74 L101.66,293.64 L101.78,293.54 L101.90,293.44 L102.02,293.34 L102.14,293.24 L102.26,293.15 L102.38,293.05 L102.50,292.96 L102.62,292.86 L102.74,292.77 L102.86,292.67 L102.98,292.58 L103.10,292.48 L103.22,292.39 L103.34,292.30 L103.46,292.20 L103.58,292.11 L103.70,292.02 L103.82,291.93 L103.94,291.84 L104.07,291.75 L104.19,291.66 L104.31,291.57 L104.43,291.48 L104.55,291.39 L104.67,291.31 L104.79,291.22 L104.91,291.13 L105.03,291.05 L105.15,290.96 L105.27,290.87 L105.39,290.79 L105.51,290.71 L105.63,290.62 L105.75,290.54 L105.87,290.45 L105.99,290.37 L106.11,290.29 L106.23,290.21 L106.35,290.13 L106.47,290.05 L106.59,289.97 L106.71,289.89 L106.83,289.81 L106.95,289.73 L107.07,289.65 L107.19,289.57 L107.31,289.49 L107.44,289.41 L107.56,289.34 L107.68,289.26 L107.80,289.19 L107.92,289.11 L108.04,289.04 L108.16,288.96 L108.28,288.89 L108.40,288.81 L108.52,288.74 L108.64,288.67 L108.76,288.59 L108.88,288.52 L109.00,288.45 L109.12,288.38 L109.24,288.31 L109.36,288.24 L109.48,288.17 L109.60,288.10 L109.72,288.03 L109.84,287.96 L109.96,287.89 L110.08,287.83 L110.20,287.76 L110.32,287.69 L110.83,287.42 L111.33,287.15 L111.84,286.89 L112.34,286.64 L112.84,286.39 L113.35,286.15 L113.85,285.92 L114.35,285.70 L114.86,285.48 L115.36,285.27 L115.87,285.06 L116.37,284.86 L116.87,284.67 L117.38,284.49 L117.88,284.31 L118.39,284.13 L118.89,283.96 L119.39,283.80 L119.90,283.65 L120.40,283.50 L120.90,283.35 L121.41,283.21 L121.91,283.08 L122.42,282.95 L122.92,282.82 L123.42,282.70 L123.93,282.59 L124.43,282.48 L124.94,282.38 L125.44,282.28 L125.94,282.18 L126.45,282.09 L126.95,282.00 L127.45,281.92 L127.96,281.84 L128.46,281.77 L128.97,281.70 L129.47,281.64 L129.97,281.57 L130.48,281.52 L130.98,281.46 L131.48,281.41 L131.99,281.37 L132.49,281.32 L133.00,281.28 L133.50,281.25 L134.00,281.22 L134.51,281.19 L135.01,281.16 L135.52,281.14 L136.02,281.12 L136.52,281.10 L137.03,281.09 L137.53,281.08 L138.03,281.07 L138.54,281.06 L139.04,281.06 L139.55,281.06 L140.05,281.07 L140.55,281.07 L141.06,281.08 L141.56,281.09 L142.07,281.11 L142.57,281.12 L143.07,281.14 L143.58,281.16 L144.08,281.18 L144.58,281.21 L145.09,281.24 L145.59,281.27 L146.10,281.30 L146.60,281.33 L147.10,281.37 L147.61,281.41 L148.11,281.45 L148.61,281.49 L149.12,281.54 L149.62,281.58 L150.13,281.63 L150.63,281.68 L151.13,281.73 L151.64,281.79 L152.14,281.84 L152.65,281.90 L153.15,281.96 L153.65,282.02 L154.16,282.08 L154.66,282.14 L155.16,282.21 L155.67,282.27 L156.17,282.34 L156.68,282.41 L157.18,282.48 L157.68,282.56 L158.19,282.63 L158.69,282.70 L159.20,282.78 L159.70,282.86 L160.20,282.94 L160.71,283.02 L161.21,283.10 L161.71,283.18 L162.22,283.27 L162.72,283.35 L163.23,283.44 L163.73,283.53 L164.23,283.61 L164.74,283.70 L165.24,283.79 L165.75,283.89 L166.25,283.98 L166.75,284.07 L167.26,284.17 L167.76,284.26 L168.26,284.36 L168.77,284.46 L169.27,284.55 L169.78,284.65 L170.28,284.75 L170.78,284.85 L171.29,284.95 L171.79,285.06 L172.29,285.16 L172.80,285.26 L173.30,285.37 L173.81,285.47 L174.31,285.58 L174.81,285.68 L175.32,285.79 L175.82,285.90 L176.33,286.01 L176.83,286.12 L177.33,286.22 L177.84,286.33 L178.34,286.44 L178.84,286.55 L179.35,286.67 L179.85,286.78 L180.36,286.89 L180.86,287.00 L181.36,287.11 L181.87,287.23 L182.37,287.34 L182.88,287.45 L183.38,287.57 L183.88,287.68 L184.39,287.80 L184.89,287.91 L185.39,288.03 L185.90,288.15 L186.40,288.26 L186.91,288.38 L187.41,288.49 L187.91,288.61 L188.42,288.73 L188.92,288.84 L189.43,288.96 L189.93,289.08 L190.43,289.20 L190.94,289.31 L191.44,289.43 L191.94,289.55 L192.45,289.67 L192.95,289.79 L193.46,289.90 L193.96,290.02 L194.46,290.14 L194.97,290.26 L195.47,290.38 L195.97,290.49 L196.48,290.61 L196.98,290.73 L197.49,290.85 L197.99,290.97 L198.49,291.09 L199.00,291.20 L199.50,291.32 L200.01,291.44 L200.51,291.56 L201.01,291.68 L201.52,291.79 L202.02,291.91 L202.52,292.03 L203.03,292.15 L203.53,292.26 L204.04,292.38 L204.54,292.50 L205.04,292.61 L205.55,292.73 L206.05,292.85 L206.56,292.96 L207.06,293.08 L207.56,293.19 L208.07,293.31 L208.57,293.43 L209.07,293.54 L209.58,293.66 L210.08,293.77 L210.59,293.89 L211.09,294.00 L211.59,294.11 L212.10,294.23 L212.60,294.34 L213.10,294.45 L213.61,294.57 L214.11,294.68 L214.62,294.79 L215.12,294.90 L215.62,295.02 L216.13,295.13 L216.63,295.24 L217.14,295.35 L217.64,295.46 L218.14,295.57 L218.65,295.68 L219.15,295.79 L219.65,295.90 L220.16,296.01 L220.66,296.12 L221.17,296.23 L221.67,296.34 L222.17,296.44 L222.68,296.55 L223.18,296.66 L223.69,296.77 L224.19,296.87 L224.69,296.98 L225.20,297.08 L225.70,297.19 L226.20,297.29 L226.71,297.40 L227.21,297.50 L227.72,297.61 L228.22,297.71 L228.72,297.81 L229.23,297.92 L229.73,298.02 L230.24,298.12 L230.74,298.22 L231.24,298.32 L231.75,298.42 L232.25,298.53 L232.75,298.63 L233.26,298.73 L233.76,298.82 L234.27,298.92 L234.77,299.02 L235.27,299.12 L235.78,299.22 L236.28,299.32 L236.78,299.41 L237.29,299.51 L237.79,299.61 L238.30,299.70 L238.80,299.80 L239.30,299.89 L239.81,299.99 L240.31,300.08 L240.82,300.18 L241.32,300.27 L241.82,300.36 L242.33,300.46 L242.83,300.55 L243.33,300.64 L243.84,300.73 L244.34,300.82 L244.85,300.91 L245.35,301.00 L245.85,301.09 L246.36,301.18 L246.86,301.27 L247.37,301.36 L247.87,301.45 L248.37,301.54 L248.88,301.63 L249.38,301.71 L249.88,301.80 L250.39,301.89 L250.89,301.97 L251.40,302.06 L251.90,302.14 L252.40,302.23 L252.91,302.31 L253.41,302.40 L253.92,302.48 L254.42,302.57 L254.92,302.65 L255.43,302.73 L255.93,302.81 L256.43,302.90 L256.94,302.98 L257.44,303.06 L257.95,303.14 L258.45,303.22 L258.95,303.30 L259.46,303.38 L259.96,303.46 L260.46,303.54 L260.97,303.62 L261.47,303.70 L261.98,303.78 L262.48,303.85 L262.98,303.93 L263.49,304.01 L263.99,304.09 L264.50,304.16 L265.00,304.24 L265.50,304.31 L266.01,304.39 L266.51,304.46 L267.01,304.54 L267.52,304.61 L268.02,304.69 L268.53,304.76 L269.03,304.83 L269.53,304.91 L270.04,304.98 L270.54,305.05 L271.05,305.12 L271.55,305.20 L272.05,305.27 L272.56,305.34 L273.06,305.41 L273.56,305.48 L274.07,305.55 L274.57,305.62 L275.08,305.69 L275.58,305.76 L276.08,305.83 L276.59,305.90 L277.09,305.96 L277.60,306.03 L278.10,306.10 L278.60,306.17 L279.11,306.23 L279.61,306.30 L280.11,306.37 L280.62,306.43 L281.12,306.50 L281.63,306.57 L282.13,306.63 L282.63,306.70 L283.14,306.76 L283.64,306.82 L284.14,306.89 L284.65,306.95 L285.15,307.02 L285.66,307.08 L286.16,307.14 L286.66,307.21 L287.17,307.27 L287.67,307.33 L288.18,307.39 L288.68,307.45 L289.18,307.52 L289.69,307.58 L290.19,307.64 L290.69,307.70 L291.20,307.76 L291.70,307.82 L292.21,307.88 L292.71,307.94 L293.21,308.00 L293.72,308.06 L294.22,308.12 L294.73,308.18 L295.23,308.23 L295.73,308.29 L296.24,308.35 L296.74,308.41 L297.24,308.47 L297.75,308.52 L298.25,308.58 L298.76,308.64 L299.26,308.69 L299.76,308.75 L300.27,308.81 L300.77,308.86 L301.27,308.92 L301.78,308.97 L302.28,309.03 L302.79,309.08 L303.29,309.14 L303.79,309.19 L304.30,309.25 L304.80,309.30 L305.31,309.35 L305.81,309.41 L306.31,309.46 L306.82,309.52 L307.32,309.57 L307.82,309.62 L308.33,309.67 L308.83,309.73 L309.34,309.78 L309.84,309.83 L310.34,309.88 L310.85,309.93 L311.35,309.98 L311.86,310.04 L312.36,310.09 L312.86,310.14 L313.37,310.19 L313.87,310.24 L314.37,310.29 L314.88,310.34 L315.38,310.39 L315.89,310.44 L316.39,310.49 L316.89,310.54 L317.40,310.58 L317.90,310.63 L318.41,310.68 L318.91,310.73 L319.41,310.78 L319.92,310.83 L320.42,310.87 L320.92,310.92 L321.43,310.97 L321.93,311.02 L322.44,311.06 L322.94,311.11 L323.44,311.16 L323.95,311.20 L324.45,311.25 L324.95,311.29 L325.46,311.34 L325.96,311.39 L326.47,311.43 L326.97,311.48 L327.47,311.52 L327.98,311.57 L328.48,311.61 L328.99,311.65 L329.49,311.70 L329.99,311.74 L330.50,311.79 L331.00,311.83 L331.50,311.87 L332.01,311.92 L332.51,311.96 L333.02,312.00 L333.52,312.05 L334.02,312.09 L334.53,312.13 L335.03,312.17 L335.54,312.21 L336.04,312.26 L336.54,312.30 L337.05,312.34 L337.55,312.38 L338.05,312.42 L338.56,312.46 L339.06,312.50 L339.57,312.54 L340.07,312.58 L340.57,312.62 L341.08,312.66 L341.58,312.70 L342.09,312.74 L342.59,312.78 L343.09,312.82 L343.60,312.86 L344.10,312.90 L344.60,312.94 L345.11,312.97 L345.61,313.01 L346.12,313.05 L346.62,313.09 L347.12,313.13 L347.63,313.16 L348.13,313.20 L348.63,313.24 L349.14,313.27 L349.64,313.31 L350.15,313.35 L350.65,313.38 L351.15,313.42 L351.66,313.45 L352.16,313.49 L352.67,313.52 L353.17,313.56 L353.67,313.59 L354.18,313.63 L354.68,313.66 L355.18,313.70 L355.69,313.73 L356.19,313.76 L356.70,313.80 L357.20,313.83 L357.70,313.86 L358.21,313.90 L358.71,313.93 L359.22,313.96 L359.72,313.99 L360.22,314.03 L360.73,314.06 L361.23,314.09 L361.73,314.12 L362.24,314.15 L362.74,314.18 L363.25,314.21 L363.75,314.24 L364.25,314.28 L364.76,314.31 L365.26,314.34 L365.76,314.36 L366.27,314.39 L366.77,314.42 L367.28,314.45 L367.78,314.48 L368.28,314.51 L368.79,314.54 L369.29,314.57 L369.80,314.59 L370.30,314.62 L370.80,314.65 L371.31,314.68 L371.81,314.70 L372.31,314.73 L372.82,314.76 L373.32,314.78 L373.83,314.81 L374.33,314.83 L374.83,314.86 L375.34,314.89 L375.84,314.91 L376.35,314.94 L376.85,314.96 L377.35,314.98 L377.86,315.01 L378.36,315.03 L378.86,315.06 L379.37,315.08 L379.87,315.10 L380.38,315.13 L380.88,315.15 L381.38,315.17 L381.89,315.19 L382.39,315.22 L382.90,315.24 L383.40,315.26 L383.90,315.28 L384.41,315.30 L384.91,315.32 L385.41,315.35 L385.92,315.37 L386.42,315.39 L386.93,315.41 L387.43,315.43 L387.93,315.45 L388.44,315.47 L388.94,315.48 L389.44,315.50 L389.95,315.52 L390.45,315.54 L390.96,315.56 L391.46,315.58 L391.96,315.60 L392.47,315.61 L392.97,315.63 L393.48,315.65 L393.98,315.66 L394.48,315.68 L394.99,315.70 L395.49,315.71 L395.99,315.73 L396.50,315.75 L397.00,315.76 L397.51,315.78 L398.01,315.79 L398.51,315.81 L399.02,315.82 L399.52,315.84 L400.03,315.85 L400.53,315.87 L401.03,315.88 L401.54,315.89 L402.04,315.91 L402.54,315.92 L403.05,315.93 L403.55,315.95 L404.06,315.96 L404.56,315.97 L405.06,315.98 L405.57,316.00 L406.07,316.01 L406.58,316.02 L407.08,316.03 L407.58,316.04 L408.09,316.05 L408.59,316.06 L409.09,316.08 L409.60,316.09 L410.10,316.10 L410.61,316.11 L411.11,316.12 L411.61,316.13 L412.12,316.14 L412.62,316.15 L413.12,316.15 L413.63,316.16 L414.13,316.17 L414.64,316.18 L415.14,316.19 L415.64,316.20 L416.15,316.21 L416.65,316.22 L417.16,316.22 L417.66,316.23 L418.16,316.24 L418.67,316.25 L419.17,316.25 L419.67,316.26 L420.18,316.27 L420.68,316.28 L421.19,316.28 L421.69,316.29 L422.19,316.30 L422.70,316.30 L423.20,316.31 L423.71,316.31 L424.21,316.32 L424.71,316.33 L425.22,316.33 L425.72,316.34 L426.22,316.34 L426.73,316.35 L427.23,316.35 L427.74,316.36 L428.24,316.36 L428.74,316.37 L429.25,316.37 L429.75,316.38 L430.25,316.38 L430.76,316.39 L431.26,316.39 L431.77,316.39 L432.27,316.40 L432.77,316.40 L433.28,316.41 L433.78,316.41 L434.29,316.41 L434.79,316.42 L435.29,316.42 L435.80,316.42 L436.30,316.43 L436.80,316.43 L437.31,316.43 L437.81,316.44 L438.32,316.44 L438.82,316.44 L439.32,316.44 L439.83,316.45 L440.33,316.45 L440.84,316.45 L441.34,316.45 L441.84,316.46 L442.35,316.46 L442.85,316.46 L443.35,316.46 L443.86,316.47 L444.36,316.47 L444.87,316.47 L445.37,316.47 L445.87,316.47 L446.38,316.48 L446.88,316.48 L447.39,316.48 L447.89,316.48 L448.39,316.48 L448.90,316.48 L449.40,316.48 L449.90,316.49 L450.41,316.49 L450.91,316.49 L451.42,316.49 L451.92,316.49 L452.42,316.49 L452.93,316.49 L453.43,316.50 L453.93,316.50 L454.44,316.50 L454.94,316.50 L455.45,316.50 L455.95,316.50 L456.45,316.50 L456.96,316.50 L457.46,316.50 L457.97,316.50 L458.47,316.50 L458.97,316.50 L459.48,316.51 L459.98,316.51 L460.48,316.51 L460.99,316.51 L461.49,316.51 L462.00,316.51 L462.50,316.51 L463.40,316.51" stroke="#0000ff" stroke-width="2.2" stroke-dasharray="5.7 1.752" stroke-dashoffset="0.19"/>
<path d="M61.10,317.10 L62.30,317.10 L62.42,317.10 L62.54,317.10 L62.66,317.10 L62.78,317.10 L62.90,317.10 L63.02,317.10 L63.14,317.10 L63.26,317.10 L63.38,317.10 L63.50,317.10 L63.62,317.10 L63.74,317.10 L63.86,317.10 L63.99,317.10 L64.11,317.10 L64.23,317.10 L64.35,317.10 L64.47,317.10 L64.59,317.10 L64.71,317.10 L64.83,317.10 L64.95,317.10 L65.07,317.10 L65.19,317.10 L65.31,317.10 L65.43,317.10 L65.55,317.10 L65.67,317.10 L65.79,317.10 L65.91,317.10 L66.03,317.10 L66.15,317.10 L66.27,317.10 L66.39,317.10 L66.51,317.10 L66.63,317.10 L66.75,317.10 L66.87,317.10 L66.99,317.10 L67.11,317.10 L67.23,317.10 L67.36,317.10 L67.48,317.10 L67.60,317.10 L67.72,317.10 L67.84,317.10 L67.96,317.10 L68.08,317.10 L68.20,317.10 L68.32,317.10 L68.44,317.10 L68.56,317.10 L68.68,317.10 L68.80,317.10 L68.92,317.10 L69.04,317.10 L69.16,317.10 L69.28,317.10 L69.40,317.10 L69.52,317.10 L69.64,317.10 L69.76,317.10 L69.88,317.10 L70.00,317.10 L70.12,317.10 L70.24,317.10 L70.36,317.10 L70.48,317.10 L70.60,317.10 L70.73,317.10 L70.85,317.10 L70.97,317.10 L71.09,317.10 L71.21,317.10 L71.33,317.10 L71.45,317.10 L71.57,317.10 L71.69,317.10 L71.81,317.10 L71.93,317.10 L72.05,317.10 L72.17,317.10 L72.29,317.10 L72.41,317.10 L72.53,317.10 L72.65,317.10 L72.77,317.10 L72.89,317.10 L73.01,317.10 L73.13,317.10 L73.25,317.10 L73.37,317.10 L73.49,317.10 L73.61,317.10 L73.73,317.10 L73.85,317.10 L73.98,317.10 L74.10,317.10 L74.22,317.10 L74.34,317.10 L74.46,317.10 L74.58,317.10 L74.70,317.10 L74.82,317.09 L74.94,317.09 L75.06,317.09 L75.18,317.09 L75.30,317.09 L75.42,317.09 L75.54,317.09 L75.66,317.09 L75.78,317.09 L75.90,317.09 L76.02,317.09 L76.14,317.08 L76.26,317.08 L76.38,317.08 L76.50,317.08 L76.62,317.08 L76.74,317.07 L76.86,317.07 L76.98,317.07 L77.10,317.06 L77.22,317.06 L77.35,317.06 L77.47,317.05 L77.59,317.05 L77.71,317.04 L77.83,317.04 L77.95,317.03 L78.07,317.03 L78.19,317.02 L78.31,317.01 L78.43,317.01 L78.55,317.00 L78.67,316.99 L78.79,316.98 L78.91,316.97 L79.03,316.96 L79.15,316.95 L79.27,316.93 L79.39,316.92 L79.51,316.91 L79.63,316.89 L79.75,316.88 L79.87,316.86 L79.99,316.84 L80.11,316.82 L80.23,316.80 L80.35,316.78 L80.47,316.76 L80.59,316.74 L80.72,316.72 L80.84,316.69 L80.96,316.67 L81.08,316.64 L81.20,316.62 L81.32,316.59 L81.44,316.56 L81.56,316.53 L81.68,316.50 L81.80,316.47 L81.92,316.44 L82.04,316.41 L82.16,316.37 L82.28,316.34 L82.40,316.30 L82.52,316.27 L82.64,316.23 L82.76,316.19 L82.88,316.16 L83.00,316.12 L83.12,316.08 L83.24,316.04 L83.36,316.00 L83.48,315.95 L83.60,315.91 L83.72,315.87 L83.84,315.83 L83.96,315.78 L84.09,315.74 L84.21,315.69 L84.33,315.65 L84.45,315.60 L84.57,315.55 L84.69,315.51 L84.81,315.46 L84.93,315.41 L85.05,315.36 L85.17,315.31 L85.29,315.26 L85.41,315.21 L85.53,315.16 L85.65,315.11 L85.77,315.06 L85.89,315.01 L86.01,314.96 L86.13,314.90 L86.25,314.85 L86.37,314.80 L86.49,314.75 L86.61,314.69 L86.73,314.64 L86.85,314.59 L86.97,314.53 L87.09,314.48 L87.21,314.42 L87.34,314.37 L87.46,314.31 L87.58,314.26 L87.70,314.20 L87.82,314.15 L87.94,314.09 L88.06,314.03 L88.18,313.98 L88.30,313.92 L88.42,313.86 L88.54,313.81 L88.66,313.75 L88.78,313.69 L88.90,313.63 L89.02,313.58 L89.14,313.52 L89.26,313.46 L89.38,313.40 L89.50,313.34 L89.62,313.29 L89.74,313.23 L89.86,313.17 L89.98,313.11 L90.10,313.05 L90.22,312.99 L90.34,312.93 L90.46,312.88 L90.58,312.82 L90.71,312.76 L90.83,312.70 L90.95,312.64 L91.07,312.58 L91.19,312.52 L91.31,312.46 L91.43,312.40 L91.55,312.34 L91.67,312.28 L91.79,312.22 L91.91,312.16 L92.03,312.10 L92.15,312.04 L92.27,311.98 L92.39,311.92 L92.51,311.86 L92.63,311.80 L92.75,311.74 L92.87,311.68 L92.99,311.62 L93.11,311.56 L93.23,311.50 L93.35,311.44 L93.47,311.38 L93.59,311.32 L93.71,311.26 L93.83,311.21 L93.95,311.15 L94.08,311.09 L94.20,311.03 L94.32,310.97 L94.44,310.91 L94.56,310.85 L94.68,310.79 L94.80,310.73 L94.92,310.67 L95.04,310.61 L95.16,310.55 L95.28,310.49 L95.40,310.43 L95.52,310.37 L95.64,310.31 L95.76,310.25 L95.88,310.19 L96.00,310.14 L96.12,310.08 L96.24,310.02 L96.36,309.96 L96.48,309.90 L96.60,309.84 L96.72,309.78 L96.84,309.73 L96.96,309.67 L97.08,309.61 L97.20,309.55 L97.33,309.49 L97.45,309.43 L97.57,309.38 L97.69,309.32 L97.81,309.26 L97.93,309.20 L98.05,309.15 L98.17,309.09 L98.29,309.03 L98.41,308.98 L98.53,308.92 L98.65,308.86 L98.77,308.80 L98.89,308.75 L99.01,308.69 L99.13,308.64 L99.25,308.58 L99.37,308.52 L99.49,308.47 L99.61,308.41 L99.73,308.36 L99.85,308.30 L99.97,308.24 L100.09,308.19 L100.21,308.13 L100.33,308.08 L100.45,308.02 L100.57,307.97 L100.70,307.91 L100.82,307.86 L100.94,307.81 L101.06,307.75 L101.18,307.70 L101.30,307.64 L101.42,307.59 L101.54,307.54 L101.66,307.48 L101.78,307.43 L101.90,307.38 L102.02,307.32 L102.14,307.27 L102.26,307.22 L102.38,307.17 L102.50,307.11 L102.62,307.06 L102.74,307.01 L102.86,306.96 L102.98,306.91 L103.10,306.85 L103.22,306.80 L103.34,306.75 L103.46,306.70 L103.58,306.65 L103.70,306.60 L103.82,306.55 L103.94,306.50 L104.07,306.45 L104.19,306.40 L104.31,306.35 L104.43,306.30 L104.55,306.25 L104.67,306.20 L104.79,306.15 L104.91,306.10 L105.03,306.05 L105.15,306.00 L105.27,305.96 L105.39,305.91 L105.51,305.86 L105.63,305.81 L105.75,305.76 L105.87,305.72 L105.99,305.67 L106.11,305.62 L106.23,305.58 L106.35,305.53 L106.47,305.48 L106.59,305.44 L106.71,305.39 L106.83,305.34 L106.95,305.30 L107.07,305.25 L107.19,305.21 L107.31,305.16 L107.44,305.12 L107.56,305.07 L107.68,305.03 L107.80,304.98 L107.92,304.94 L108.04,304.89 L108.16,304.85 L108.28,304.81 L108.40,304.76 L108.52,304.72 L108.64,304.68 L108.76,304.63 L108.88,304.59 L109.00,304.55 L109.12,304.51 L109.24,304.46 L109.36,304.42 L109.48,304.38 L109.60,304.34 L109.72,304.30 L109.84,304.25 L109.96,304.21 L110.08,304.17 L110.20,304.13 L110.32,304.09 L110.83,303.92 L111.33,303.76 L111.84,303.60 L112.34,303.44 L112.84,303.29 L113.35,303.14 L113.85,302.99 L114.35,302.84 L114.86,302.70 L115.36,302.57 L115.87,302.43 L116.37,302.30 L116.87,302.17 L117.38,302.05 L117.88,301.92 L118.39,301.81 L118.89,301.69 L119.39,301.58 L119.90,301.47 L120.40,301.36 L120.90,301.26 L121.41,301.16 L121.91,301.06 L122.42,300.96 L122.92,300.87 L123.42,300.78 L123.93,300.69 L124.43,300.61 L124.94,300.53 L125.44,300.45 L125.94,300.37 L126.45,300.30 L126.95,300.23 L127.45,300.16 L127.96,300.09 L128.46,300.03 L128.97,299.97 L129.47,299.91 L129.97,299.85 L130.48,299.79 L130.98,299.74 L131.48,299.69 L131.99,299.64 L132.49,299.59 L133.00,299.55 L133.50,299.51 L134.00,299.47 L134.51,299.43 L135.01,299.39 L135.52,299.35 L136.02,299.32 L136.52,299.29 L137.03,299.26 L137.53,299.23 L138.03,299.21 L138.54,299.18 L139.04,299.16 L139.55,299.14 L140.05,299.12 L140.55,299.10 L141.06,299.08 L141.56,299.07 L142.07,299.05 L142.57,299.04 L143.07,299.03 L143.58,299.02 L144.08,299.01 L144.58,299.00 L145.09,299.00 L145.59,298.99 L146.10,298.99 L146.60,298.99 L147.10,298.99 L147.61,298.99 L148.11,298.99 L148.61,298.99 L149.12,298.99 L149.62,299.00 L150.13,299.00 L150.63,299.01 L151.13,299.02 L151.64,299.03 L152.14,299.04 L152.65,299.05 L153.15,299.06 L153.65,299.07 L154.16,299.09 L154.66,299.10 L155.16,299.12 L155.67,299.13 L156.17,299.15 L156.68,299.17 L157.18,299.19 L157.68,299.21 L158.19,299.23 L158.69,299.25 L159.20,299.27 L159.70,299.29 L160.20,299.32 L160.71,299.34 L161.21,299.37 L161.71,299.39 L162.22,299.42 L162.72,299.45 L163.23,299.47 L163.73,299.50 L164.23,299.53 L164.74,299.56 L165.24,299.59 L165.75,299.62 L166.25,299.65 L166.75,299.69 L167.26,299.72 L167.76,299.75 L168.26,299.79 L168.77,299.82 L169.27,299.86 L169.78,299.89 L170.28,299.93 L170.78,299.96 L171.29,300.00 L171.79,300.04 L172.29,300.08 L172.80,300.11 L173.30,300.15 L173.81,300.19 L174.31,300.23 L174.81,300.27 L175.32,300.31 L175.82,300.35 L176.33,300.40 L176.83,300.44 L177.33,300.48 L177.84,300.52 L178.34,300.57 L178.84,300.61 L179.35,300.65 L179.85,300.70 L180.36,300.74 L180.86,300.79 L181.36,300.83 L181.87,300.88 L182.37,300.92 L182.88,300.97 L183.38,301.01 L183.88,301.06 L184.39,301.11 L184.89,301.16 L185.39,301.20 L185.90,301.25 L186.40,301.30 L186.91,301.35 L187.41,301.40 L187.91,301.44 L188.42,301.49 L188.92,301.54 L189.43,301.59 L189.93,301.64 L190.43,301.69 L190.94,301.74 L191.44,301.79 L191.94,301.84 L192.45,301.89 L192.95,301.95 L193.46,302.00 L193.96,302.05 L194.46,302.10 L194.97,302.15 L195.47,302.20 L195.97,302.25 L196.48,302.31 L196.98,302.36 L197.49,302.41 L197.99,302.46 L198.49,302.52 L199.00,302.57 L199.50,302.62 L200.01,302.67 L200.51,302.73 L201.01,302.78 L201.52,302.83 L202.02,302.89 L202.52,302.94 L203.03,302.99 L203.53,303.05 L204.04,303.10 L204.54,303.15 L205.04,303.21 L205.55,303.26 L206.05,303.32 L206.56,303.37 L207.06,303.42 L207.56,303.48 L208.07,303.53 L208.57,303.58 L209.07,303.64 L209.58,303.69 L210.08,303.75 L210.59,303.80 L211.09,303.85 L211.59,303.91 L212.10,303.96 L212.60,304.02 L213.10,304.07 L213.61,304.12 L214.11,304.18 L214.62,304.23 L215.12,304.29 L215.62,304.34 L216.13,304.39 L216.63,304.45 L217.14,304.50 L217.64,304.55 L218.14,304.61 L218.65,304.66 L219.15,304.72 L219.65,304.77 L220.16,304.82 L220.66,304.88 L221.17,304.93 L221.67,304.98 L222.17,305.04 L222.68,305.09 L223.18,305.14 L223.69,305.19 L224.19,305.25 L224.69,305.30 L225.20,305.35 L225.70,305.41 L226.20,305.46 L226.71,305.51 L227.21,305.56 L227.72,305.61 L228.22,305.67 L228.72,305.72 L229.23,305.77 L229.73,305.82 L230.24,305.87 L230.74,305.93 L231.24,305.98 L231.75,306.03 L232.25,306.08 L232.75,306.13 L233.26,306.18 L233.76,306.23 L234.27,306.28 L234.77,306.33 L235.27,306.38 L235.78,306.43 L236.28,306.48 L236.78,306.53 L237.29,306.58 L237.79,306.63 L238.30,306.68 L238.80,306.73 L239.30,306.78 L239.81,306.83 L240.31,306.88 L240.82,306.93 L241.32,306.98 L241.82,307.03 L242.33,307.08 L242.83,307.12 L243.33,307.17 L243.84,307.22 L244.34,307.27 L244.85,307.32 L245.35,307.36 L245.85,307.41 L246.36,307.46 L246.86,307.50 L247.37,307.55 L247.87,307.60 L248.37,307.64 L248.88,307.69 L249.38,307.74 L249.88,307.78 L250.39,307.83 L250.89,307.88 L251.40,307.92 L251.90,307.97 L252.40,308.01 L252.91,308.06 L253.41,308.10 L253.92,308.15 L254.42,308.19 L254.92,308.24 L255.43,308.28 L255.93,308.32 L256.43,308.37 L256.94,308.41 L257.44,308.45 L257.95,308.50 L258.45,308.54 L258.95,308.58 L259.46,308.63 L259.96,308.67 L260.46,308.71 L260.97,308.76 L261.47,308.80 L261.98,308.84 L262.48,308.88 L262.98,308.92 L263.49,308.96 L263.99,309.01 L264.50,309.05 L265.00,309.09 L265.50,309.13 L266.01,309.17 L266.51,309.21 L267.01,309.25 L267.52,309.29 L268.02,309.33 L268.53,309.37 L269.03,309.41 L269.53,309.45 L270.04,309.49 L270.54,309.53 L271.05,309.57 L271.55,309.61 L272.05,309.65 L272.56,309.68 L273.06,309.72 L273.56,309.76 L274.07,309.80 L274.57,309.84 L275.08,309.87 L275.58,309.91 L276.08,309.95 L276.59,309.99 L277.09,310.02 L277.60,310.06 L278.10,310.10 L278.60,310.13 L279.11,310.17 L279.61,310.21 L280.11,310.24 L280.62,310.28 L281.12,310.32 L281.63,310.35 L282.13,310.39 L282.63,310.42 L283.14,310.46 L283.64,310.49 L284.14,310.53 L284.65,310.56 L285.15,310.60 L285.66,310.63 L286.16,310.67 L286.66,310.70 L287.17,310.73 L287.67,310.77 L288.18,310.80 L288.68,310.84 L289.18,310.87 L289.69,310.90 L290.19,310.94 L290.69,310.97 L291.20,311.00 L291.70,311.03 L292.21,311.07 L292.71,311.10 L293.21,311.13 L293.72,311.16 L294.22,311.20 L294.73,311.23 L295.23,311.26 L295.73,311.29 L296.24,311.32 L296.74,311.36 L297.24,311.39 L297.75,311.42 L298.25,311.45 L298.76,311.48 L299.26,311.51 L299.76,311.54 L300.27,311.57 L300.77,311.60 L301.27,311.63 L301.78,311.66 L302.28,311.69 L302.79,311.72 L303.29,311.75 L303.79,311.78 L304.30,311.81 L304.80,311.84 L305.31,311.87 L305.81,311.90 L306.31,311.93 L306.82,311.96 L307.32,311.99 L307.82,312.02 L308.33,312.04 L308.83,312.07 L309.34,312.10 L309.84,312.13 L310.34,312.16 L310.85,312.19 L311.35,312.21 L311.86,312.24 L312.36,312.27 L312.86,312.30 L313.37,312.33 L313.87,312.35 L314.37,312.38 L314.88,312.41 L315.38,312.44 L315.89,312.46 L316.39,312.49 L316.89,312.52 L317.40,312.54 L317.90,312.57 L318.41,312.60 L318.91,312.62 L319.41,312.65 L319.92,312.68 L320.42,312.70 L320.92,312.73 L321.43,312.75 L321.93,312.78 L322.44,312.81 L322.94,312.83 L323.44,312.86 L323.95,312.88 L324.45,312.91 L324.95,312.93 L325.46,312.96 L325.96,312.98 L326.47,313.01 L326.97,313.03 L327.47,313.06 L327.98,313.08 L328.48,313.11 L328.99,313.13 L329.49,313.16 L329.99,313.18 L330.50,313.21 L331.00,313.23 L331.50,313.26 L332.01,313.28 L332.51,313.30 L333.02,313.33 L333.52,313.35 L334.02,313.38 L334.53,313.40 L335.03,313.42 L335.54,313.45 L336.04,313.47 L336.54,313.49 L337.05,313.52 L337.55,313.54 L338.05,313.56 L338.56,313.59 L339.06,313.61 L339.57,313.63 L340.07,313.66 L340.57,313.68 L341.08,313.70 L341.58,313.73 L342.09,313.75 L342.59,313.77 L343.09,313.79 L343.60,313.82 L344.10,313.84 L344.60,313.86 L345.11,313.88 L345.61,313.90 L346.12,313.93 L346.62,313.95 L347.12,313.97 L347.63,313.99 L348.13,314.01 L348.63,314.04 L349.14,314.06 L349.64,314.08 L350.15,314.10 L350.65,314.12 L351.15,314.14 L351.66,314.16 L352.16,314.19 L352.67,314.21 L353.17,314.23 L353.67,314.25 L354.18,314.27 L354.68,314.29 L355.18,314.31 L355.69,314.33 L356.19,314.35 L356.70,314.37 L357.20,314.39 L357.70,314.41 L358.21,314.43 L358.71,314.45 L359.22,314.47 L359.72,314.49 L360.22,314.51 L360.73,314.53 L361.23,314.55 L361.73,314.57 L362.24,314.59 L362.74,314.61 L363.25,314.63 L363.75,314.65 L364.25,314.67 L364.76,314.69 L365.26,314.71 L365.76,314.73 L366.27,314.75 L366.77,314.77 L367.28,314.79 L367.78,314.80 L368.28,314.82 L368.79,314.84 L369.29,314.86 L369.80,314.88 L370.30,314.90 L370.80,314.92 L371.31,314.93 L371.81,314.95 L372.31,314.97 L372.82,314.99 L373.32,315.01 L373.83,315.02 L374.33,315.04 L374.83,315.06 L375.34,315.08 L375.84,315.09 L376.35,315.11 L376.85,315.13 L377.35,315.15 L377.86,315.16 L378.36,315.18 L378.86,315.20 L379.37,315.21 L379.87,315.23 L380.38,315.25 L380.88,315.26 L381.38,315.28 L381.89,315.30 L382.39,315.31 L382.90,315.33 L383.40,315.34 L383.90,315.36 L384.41,315.38 L384.91,315.39 L385.41,315.41 L385.92,315.42 L386.42,315.44 L386.93,315.45 L387.43,315.47 L387.93,315.48 L388.44,315.50 L388.94,315.51 L389.44,315.53 L389.95,315.54 L390.45,315.56 L390.96,315.57 L391.46,315.59 L391.96,315.60 L392.47,315.62 L392.97,315.63 L393.48,315.64 L393.98,315.66 L394.48,315.67 L394.99,315.68 L395.49,315.70 L395.99,315.71 L396.50,315.72 L397.00,315.74 L397.51,315.75 L398.01,315.76 L398.51,315.78 L399.02,315.79 L399.52,315.80 L400.03,315.81 L400.53,315.83 L401.03,315.84 L401.54,315.85 L402.04,315.86 L402.54,315.87 L403.05,315.89 L403.55,315.90 L404.06,315.91 L404.56,315.92 L405.06,315.93 L405.57,315.94 L406.07,315.95 L406.58,315.97 L407.08,315.98 L407.58,315.99 L408.09,316.00 L408.59,316.01 L409.09,316.02 L409.60,316.03 L410.10,316.04 L410.61,316.05 L411.11,316.06 L411.61,316.07 L412.12,316.08 L412.62,316.09 L413.12,316.10 L413.63,316.11 L414.13,316.12 L414.64,316.12 L415.14,316.13 L415.64,316.14 L416.15,316.15 L416.65,316.16 L417.16,316.17 L417.66,316.18 L418.16,316.18 L418.67,316.19 L419.17,316.20 L419.67,316.21 L420.18,316.22 L420.68,316.22 L421.19,316.23 L421.69,316.24 L422.19,316.25 L422.70,316.25 L423.20,316.26 L423.71,316.27 L424.21,316.27 L424.71,316.28 L425.22,316.29 L425.72,316.29 L426.22,316.30 L426.73,316.31 L427.23,316.31 L427.74,316.32 L428.24,316.32 L428.74,316.33 L429.25,316.34 L429.75,316.34 L430.25,316.35 L430.76,316.35 L431.26,316.36 L431.77,316.36 L432.27,316.37 L432.77,316.37 L433.28,316.38 L433.78,316.38 L434.29,316.39 L434.79,316.39 L435.29,316.40 L435.80,316.40 L436.30,316.41 L436.80,316.41 L437.31,316.41 L437.81,316.42 L438.32,316.42 L438.82,316.43 L439.32,316.43 L439.83,316.43 L440.33,316.44 L440.84,316.44 L441.34,316.44 L441.84,316.45 L442.35,316.45 L442.85,316.45 L443.35,316.46 L443.86,316.46 L444.36,316.46 L444.87,316.47 L445.37,316.47 L445.87,316.47 L446.38,316.48 L446.88,316.48 L447.39,316.48 L447.89,316.48 L448.39,316.49 L448.90,316.49 L449.40,316.49 L449.90,316.49 L450.41,316.50 L450.91,316.50 L451.42,316.50 L451.92,316.50 L452.42,316.50 L452.93,316.51 L453.43,316.51 L453.93,316.51 L454.44,316.51 L454.94,316.51 L455.45,316.51 L455.95,316.52 L456.45,316.52 L456.96,316.52 L457.46,316.52 L457.97,316.52 L458.47,316.52 L458.97,316.52 L459.48,316.53 L459.98,316.53 L460.48,316.53 L460.99,316.53 L461.49,316.53 L462.00,316.53 L462.50,316.53 L463.40,316.53" stroke="#800080" stroke-width="2.2" stroke-dasharray="2.75 1.9" stroke-dashoffset="1.7"/>
</g>
<g fill="none">
<line x1="228.15" y1="72.9" x2="275" y2="72.9" stroke="#ff0000" stroke-width="3.5"/>
<line x1="228.2" y1="135.5" x2="267.2" y2="135.5" stroke="#0f6cc4" stroke-width="3.4" stroke-dasharray="14.4 10.1"/>
<line x1="228.3" y1="191.25" x2="267.2" y2="191.25" stroke="#602ca6" stroke-width="3.4" stroke-dasharray="3.5 3.5"/>
</g>
<g class="san">
<text x="292.6" y="80">Si (CDMS-Si)</text>
<text x="292.6" y="135.6">C and F in CF<tspan font-size="13.1" dy="4.4">3</tspan><tspan dy="-4.4">I (COUPP)</tspan></text>
<text x="292.8" y="191.5">O in CaWO<tspan font-size="13.1" dy="4.4">4</tspan><tspan dy="-4.4"> (CRESST-II)</tspan></text>
</g>
</svg>
</body></html>
